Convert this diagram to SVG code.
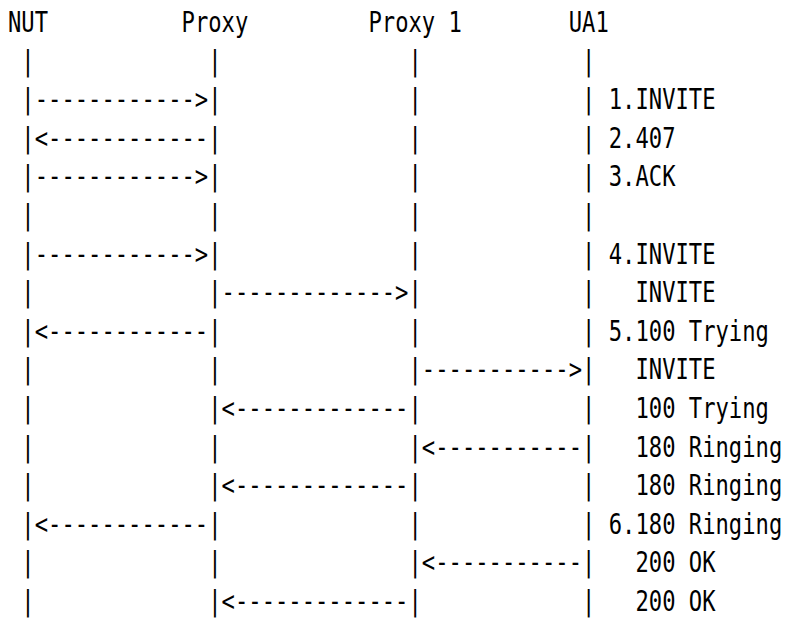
<svg xmlns="http://www.w3.org/2000/svg" width="786" height="619" viewBox="0 0 786 619">
<style>
text{font-family:"DejaVu Sans Mono","Liberation Mono",monospace;font-size:28px;fill:#000;white-space:pre}
</style>
<rect width="786" height="619" fill="#fff"/>
<g transform="scale(0.79195,1)">
<g id="nut">
<text x="10.10" y="32">NUT</text>
<text><tspan x="26.96" y="70.6">|</tspan><tspan x="26.96" y="109.2">|</tspan><tspan x="26.96" y="147.8">|</tspan><tspan x="26.96" y="186.4">|</tspan><tspan x="26.96" y="225">|</tspan><tspan x="26.96" y="263.6">|</tspan><tspan x="26.96" y="302.2">|</tspan><tspan x="26.96" y="340.8">|</tspan><tspan x="26.96" y="379.4">|</tspan><tspan x="26.96" y="418">|</tspan><tspan x="26.96" y="456.6">|</tspan><tspan x="26.96" y="495.2">|</tspan><tspan x="26.96" y="533.8">|</tspan><tspan x="26.96" y="572.4">|</tspan><tspan x="26.96" y="611">|</tspan></text>
</g>
<g id="proxy">
<text x="229.24" y="32">Proxy</text>
<text><tspan x="262.96" y="70.6">|</tspan><tspan x="262.96" y="109.2">|</tspan><tspan x="262.96" y="147.8">|</tspan><tspan x="262.96" y="186.4">|</tspan><tspan x="262.96" y="225">|</tspan><tspan x="262.96" y="263.6">|</tspan><tspan x="262.96" y="302.2">|</tspan><tspan x="262.96" y="340.8">|</tspan><tspan x="262.96" y="379.4">|</tspan><tspan x="262.96" y="418">|</tspan><tspan x="262.96" y="456.6">|</tspan><tspan x="262.96" y="495.2">|</tspan><tspan x="262.96" y="533.8">|</tspan><tspan x="262.96" y="572.4">|</tspan><tspan x="262.96" y="611">|</tspan></text>
</g>
<g id="proxy1">
<text x="465.24" y="32">Proxy 1</text>
<text><tspan x="515.81" y="70.6">|</tspan><tspan x="515.81" y="109.2">|</tspan><tspan x="515.81" y="147.8">|</tspan><tspan x="515.81" y="186.4">|</tspan><tspan x="515.81" y="225">|</tspan><tspan x="515.81" y="263.6">|</tspan><tspan x="515.81" y="302.2">|</tspan><tspan x="515.81" y="340.8">|</tspan><tspan x="515.81" y="379.4">|</tspan><tspan x="515.81" y="418">|</tspan><tspan x="515.81" y="456.6">|</tspan><tspan x="515.81" y="495.2">|</tspan><tspan x="515.81" y="533.8">|</tspan><tspan x="515.81" y="572.4">|</tspan><tspan x="515.81" y="611">|</tspan></text>
</g>
<g id="ua1">
<text x="718.09" y="32">UA1</text>
<text><tspan x="734.95" y="70.6">|</tspan><tspan x="734.95" y="109.2">|</tspan><tspan x="734.95" y="147.8">|</tspan><tspan x="734.95" y="186.4">|</tspan><tspan x="734.95" y="225">|</tspan><tspan x="734.95" y="263.6">|</tspan><tspan x="734.95" y="302.2">|</tspan><tspan x="734.95" y="340.8">|</tspan><tspan x="734.95" y="379.4">|</tspan><tspan x="734.95" y="418">|</tspan><tspan x="734.95" y="456.6">|</tspan><tspan x="734.95" y="495.2">|</tspan><tspan x="734.95" y="533.8">|</tspan><tspan x="734.95" y="572.4">|</tspan><tspan x="734.95" y="611">|</tspan></text>
</g>
<g id="connectors">
<text x="43.81" y="109.2">------------&gt;</text>
<text x="43.81" y="147.8">&lt;------------</text>
<text x="43.81" y="186.4">------------&gt;</text>
<text x="43.81" y="263.6">------------&gt;</text>
<text x="279.81" y="302.2">-------------&gt;</text>
<text x="43.81" y="340.8">&lt;------------</text>
<text x="532.67" y="379.4">-----------&gt;</text>
<text x="279.81" y="418">&lt;-------------</text>
<text x="532.67" y="456.6">&lt;-----------</text>
<text x="279.81" y="495.2">&lt;-------------</text>
<text x="43.81" y="533.8">&lt;------------</text>
<text x="532.67" y="572.4">&lt;-----------</text>
<text x="279.81" y="611">&lt;-------------</text>
</g>
<g id="labels">
<text x="768.67" y="109.2">1.INVITE</text>
<text x="768.67" y="147.8">2.407</text>
<text x="768.67" y="186.4">3.ACK</text>
<text x="768.67" y="263.6">4.INVITE</text>
<text x="802.38" y="302.2">INVITE</text>
<text x="768.67" y="340.8">5.100 Trying</text>
<text x="802.38" y="379.4">INVITE</text>
<text x="802.38" y="418">100 Trying</text>
<text x="802.38" y="456.6">180 Ringing</text>
<text x="802.38" y="495.2">180 Ringing</text>
<text x="768.67" y="533.8">6.180 Ringing</text>
<text x="802.38" y="572.4">200 OK</text>
<text x="802.38" y="611">200 OK</text>
</g>
</g>
</svg>
